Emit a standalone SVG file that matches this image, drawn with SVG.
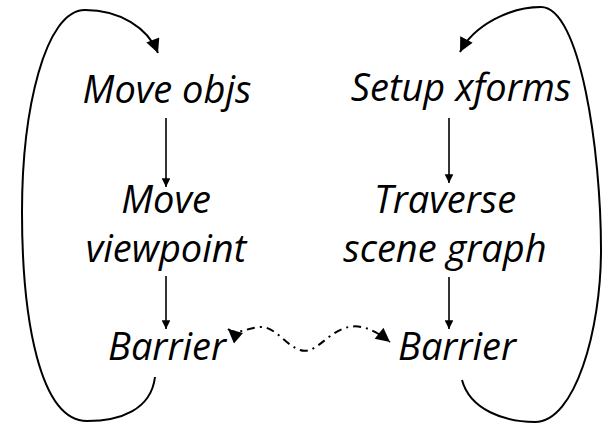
<svg xmlns="http://www.w3.org/2000/svg" width="603" height="423" viewBox="0 0 603 423">
<style>
.t{font-family:"Open Sans","DejaVu Sans",sans-serif;font-style:italic;font-size:38px;fill:#000;text-anchor:middle}
.c{fill:none;stroke:#000;stroke-width:2}
.v{fill:none;stroke:#000;stroke-width:1.6}
.d{fill:none;stroke:#000;stroke-width:2;stroke-dasharray:8,5,2,5}
</style>
<defs>
<marker id="ah" viewBox="0 0 10 10" refX="10" refY="5" markerWidth="7.5" markerHeight="7" orient="auto" markerUnits="strokeWidth"><path d="M0,0L10,5L0,10z" fill="#000"/></marker>
<marker id="ad" viewBox="0 0 10 10" refX="10" refY="5" markerWidth="7.5" markerHeight="7" orient="auto-start-reverse" markerUnits="strokeWidth"><path d="M0,0L10,5L0,10z" fill="#000"/></marker>
<marker id="as" viewBox="0 0 10 10" refX="10" refY="5" markerWidth="6.5" markerHeight="5.5" orient="auto" markerUnits="strokeWidth"><path d="M0,0L10,5L0,10z" fill="#000"/></marker>
</defs>
<rect width="603" height="423" fill="#fff"/>
<g id="n-move-objs"><text class="t" x="167" y="103">Move objs</text></g>
<g id="n-move-viewpoint"><text class="t" x="166" y="213">Move</text><text class="t" x="166" y="262">viewpoint</text></g>
<g id="n-barrier-left"><text class="t" x="167" y="360">Barrier</text></g>
<g id="n-setup-xforms"><text class="t" x="461" y="101">Setup xforms</text></g>
<g id="n-traverse"><text class="t" x="445" y="213">Traverse</text><text class="t" x="445" y="262">scene graph</text></g>
<g id="n-barrier-right"><text class="t" x="457" y="360">Barrier</text></g>
<g id="connectors">
<path class="v" d="M166,118V187" marker-end="url(#as)"/>
<path class="v" d="M166,276V329" marker-end="url(#as)"/>
<path class="v" d="M449,118V183" marker-end="url(#as)"/>
<path class="v" d="M449,277V329" marker-end="url(#as)"/>
<path class="c" d="M155,377C151,410 120,421 87,421C40,421 22,320 22,212C22,110 45,10 85,10C120,10 148,28 158,53" marker-end="url(#ah)"/>
<path class="c" d="M462,380C470,410 505,422 535,422C575,422 601,330 601,250C601,150 580,7 541,7C510,7 474,25 460,52" marker-end="url(#ah)"/>
<path class="d" d="M228,329C236,336 246,328 260,327C275,326 285,345 300,350C315,355 325,335 345,328C360,323 375,330 390,342" marker-start="url(#ad)" marker-end="url(#ad)"/>
</g>
</svg>
